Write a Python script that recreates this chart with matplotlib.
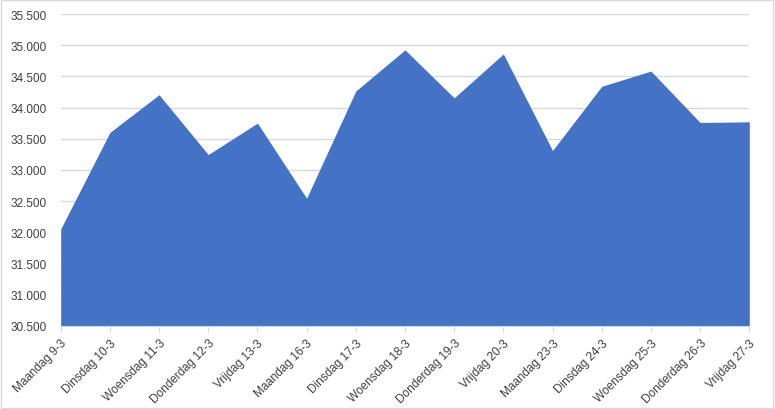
import matplotlib.pyplot as plt
import matplotlib.ticker as ticker
from matplotlib.patches import Rectangle

days = ["Maandag 9-3", "Dinsdag 10-3", "Woensdag 11-3", "Donderdag 12-3", "Vrijdag 13-3",
        "Maandag 16-3", "Dinsdag 17-3", "Woensdag 18-3", "Donderdag 19-3", "Vrijdag 20-3",
        "Maandag 23-3", "Dinsdag 24-3", "Woensdag 25-3", "Donderdag 26-3", "Vrijdag 27-3"]
values = [32050, 33600, 34205, 33245, 33750,
          32545, 34265, 34925, 34155, 34860,
          33310, 34340, 34585, 33760, 33770]
y_ticks = list(range(30500, 35501, 500))

FILL = "#4472C4"
GRID = "#D9D9D9"
TEXT = "#404040"

plt.rcParams['font.family'] = ['Liberation Sans', 'DejaVu Sans']

fig = plt.figure(figsize=(7.75, 4.1), dpi=100)
ax = fig.add_axes([0.0783, 0.2032, 0.8885, 0.7602])

x = list(range(len(days)))
ax.fill_between(x, values, 30500, color=FILL, linewidth=0, zorder=2)

ax.set_xlim(0, len(days) - 1)
ax.set_ylim(30500, 35500)
ax.set_yticks(y_ticks)
ax.yaxis.set_major_formatter(ticker.FuncFormatter(lambda v, p: f"{int(v):,}".replace(",", ".")))
ax.set_xticks(x)
ax.set_xticklabels(days, rotation=45, ha="right", rotation_mode="anchor")

ax.grid(axis="y", color=GRID, linewidth=1, zorder=1)
ax.set_axisbelow(True)
for s in ["top", "right", "left"]:
    ax.spines[s].set_visible(False)
ax.spines["bottom"].set_color(GRID)
ax.spines["bottom"].set_zorder(3)

ax.tick_params(axis="y", length=0, pad=10, labelsize=8.5, labelcolor=TEXT)
ax.tick_params(axis="x", length=4, color=GRID, pad=4, labelsize=8.5, labelcolor=TEXT)

fig.patches.append(Rectangle((0.001, 0.002), 0.997, 0.995, transform=fig.transFigure,
                             fill=False, edgecolor=GRID, linewidth=1))

fig.savefig("out.png", dpi=100)
